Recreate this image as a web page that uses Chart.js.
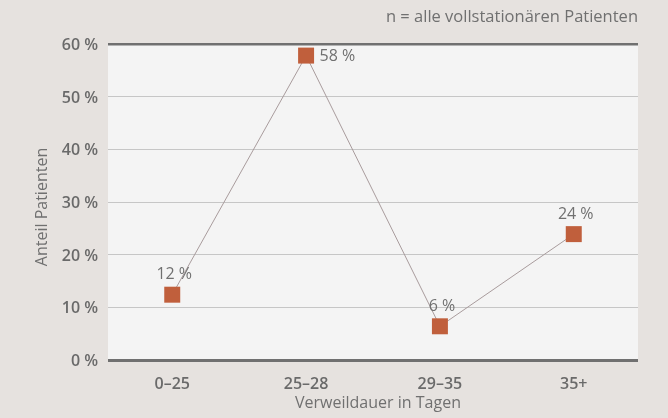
<!DOCTYPE html>
<html><head><meta charset="utf-8">
<script src="https://cdn.jsdelivr.net/npm/chart.js@4"></script>
<style>html,body{margin:0;padding:0;background:#e6e2df;}#w{width:668px;height:418px;}</style>
</head><body><div id="w"><canvas id="c"></canvas></div>
<script>
const categories = ['0–25', '25–28', '29–35', '35+'];
const values = [12.4, 57.8, 6.4, 23.9];
const yTicks = [0, 10, 20, 30, 40, 50, 60];
const subtitle = 'n = alle vollstationären Patienten';
const xTitle = 'Verweildauer in Tagen';
const yTitle = 'Anteil Patienten';

const FONT = '"Open Sans", "Noto Sans", sans-serif';
const TXT = '#707070';
const bgPlugin = {
  id: 'bg',
  beforeDraw(chart) {
    const {ctx, chartArea: a} = chart;
    ctx.save();
    ctx.fillStyle = '#f4f4f4';
    ctx.fillRect(a.left, a.top, a.right - a.left, a.bottom - a.top);
    ctx.restore();
  },
  afterDraw(chart) {
    const {ctx, chartArea: a} = chart;
    ctx.save();
    ctx.font = '16.5px ' + FONT;
    ctx.fillStyle = TXT;
    ctx.textBaseline = 'middle';
    ctx.textAlign = 'right';
    ctx.fillText(subtitle, a.right, 17);
    ctx.font = '16px ' + FONT;
    ctx.textAlign = 'center';
    ctx.fillText(xTitle, (a.left + a.right) / 2 + 5, 403);
    ctx.save();
    ctx.translate(42, (a.top + a.bottom) / 2 + 5);
    ctx.rotate(-Math.PI / 2);
    ctx.fillText(yTitle, 0, 0);
    ctx.restore();
    const meta = chart.getDatasetMeta(0);
    meta.data.forEach((pt, i) => {
      const txt = Math.round(values[i]) + ' %';
      if (i === 1) {
        ctx.textAlign = 'left';
        ctx.fillText(txt, pt.x + 13.5, pt.y + 1);
      } else {
        ctx.textAlign = 'center';
        ctx.fillText(txt, pt.x + 2, pt.y - 20);
      }
    });
    ctx.restore();
  }
};

new Chart(document.getElementById('c'), {
  type: 'line',
  data: {
    datasets: [{
      data: categories.map((c, i) => ({x: i, y: values[i]})),
      borderColor: '#a99c9d',
      borderWidth: 1,
      pointStyle: 'rect',
      pointRadius: 11.3,
      pointHoverRadius: 11.3,
      pointBackgroundColor: '#c05f3c',
      pointBorderWidth: 0,
      tension: 0
    }]
  },
  options: {
    responsive: true,
    maintainAspectRatio: false,
    animation: false,
    layout: {padding: {top: 44, right: 30, left: 0, bottom: 0}},
    plugins: {legend: {display: false}, tooltip: {enabled: false}},
    scales: {
      x: {
        type: 'linear',
        min: -0.48, max: 3.48,
        afterBuildTicks(s) { s.ticks = categories.map((c, i) => ({value: i})); },
        grid: {display: false, drawTicks: false},
        border: {display: false},
        ticks: {color: '#6a6a6a', font: {family: FONT, size: 16, weight: '600'}, padding: 15, callback: v => categories[v]},
        afterFit(s) { s.height = 58; }
      },
      y: {
        min: 0, max: 60,
        afterBuildTicks(s) { s.ticks = yTicks.map(v => ({value: v})); },
        grid: {
          drawTicks: false,
          color: c => (c.tick.value === 0 || c.tick.value === 60) ? '#707070' : '#c6c6c6',
          lineWidth: c => c.tick.value === 0 ? 3 : (c.tick.value === 60 ? 2.5 : 1)
        },
        border: {display: false},
        ticks: {color: '#6a6a6a', font: {family: FONT, size: 16, weight: '600'}, padding: 10, labelOffset: 1.5, callback: v => v + ' %'},
        afterFit(s) { s.width = 108; }
      }
    }
  },
  plugins: [bgPlugin]
});
</script></body></html>
